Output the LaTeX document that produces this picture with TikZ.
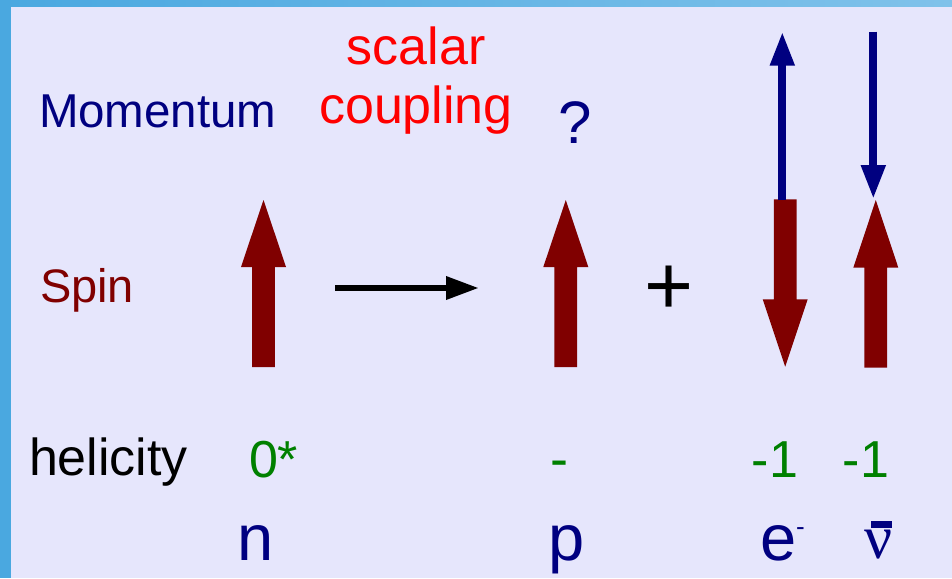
\documentclass[tikz,border=0pt]{standalone}
\usepackage{fontspec}
\setmainfont{Liberation Sans}
\newfontfamily\serifnu{Liberation Serif}
\usetikzlibrary{arrows.meta}
\definecolor{bgcol}{RGB}{230,230,252}
\definecolor{bordL}{RGB}{74,168,224}
\definecolor{bordR}{RGB}{128,194,234}
\definecolor{navyc}{RGB}{0,0,128}
\definecolor{darkred}{RGB}{128,0,0}
\definecolor{greenc}{RGB}{0,128,0}
\definecolor{redc}{RGB}{255,0,0}
\newcommand\spinupshape[4]{% center x, tip y, head base y, bottom y
  \fill[darkred] (#1,#2) -- (#1+22.5,#3) -- (#1+11.4,#3) -- (#1+11.4,#4) -- (#1-11.4,#4) -- (#1-11.4,#3) -- (#1-22.5,#3) -- cycle;}
\newcommand\spindownshape[4]{% center x, top y, head base y, tip y
  \fill[darkred] (#1-11.4,#2) -- (#1+11.4,#2) -- (#1+11.4,#3) -- (#1+22.5,#3) -- (#1,#4) -- (#1-22.5,#3) -- (#1-11.4,#3) -- cycle;}
\begin{document}
\begin{tikzpicture}[x=1pt,y=-1pt,
  txt/.style={inner sep=0pt, outer sep=0pt},
  lab/.style={txt, anchor=base west},
  momarrow/.style={navyc, line width=7.7pt, -{Triangle[length=34pt,width=23pt]}},
  reacarrow/.style={black, line width=6.5pt, -{Triangle[length=33pt,width=22pt]}}]
\useasboundingbox (0,0) rectangle (952,578);
\fill[bgcol] (0,0) rectangle (952,578);
\shade[left color=bordL, right color=bordR] (0,0) rectangle (952,7);
\fill[bordL] (0,0) rectangle (11,578);

% row labels
\node[lab, font=\fontsize{47.5}{47.5}\selectfont, text=navyc] (mom) at (39,127) {Momentum};
\node[lab, font=\fontsize{47}{47}\selectfont, text=darkred] (spin) at (40,302) {Spin};
\node[lab, font=\fontsize{52}{52}\selectfont, text=black] (hel) at (29,475) {helicity};

% scalar coupling
\node[txt, anchor=base, font=\fontsize{52}{52}\selectfont, text=redc] (sc1) at (416,64) {scalar};
\node[txt, anchor=base, font=\fontsize{52}{52}\selectfont, text=redc] (sc2) at (416,123) {coupling};

% question mark
\node[txt, anchor=base, font=\fontsize{60}{60}\selectfont, text=navyc] (q) at (575.5,143) {?};

% spin arrows
\spinupshape{263.5}{200}{267}{367}
\spinupshape{565.8}{200}{267}{367}
\spindownshape{785.2}{199.3}{299.3}{366.7}
\spinupshape{875.8}{200}{267.7}{367.7}

% momentum arrows
\coordinate (em0) at (782.3,200);
\coordinate (em1) at (782.3,31.7);
\coordinate (nm0) at (873.3,31.7);
\coordinate (nm1) at (873.3,199);
\draw[momarrow] (em0) -- (em1);
\draw[momarrow] (nm0) -- (nm1);

% reaction arrow
\coordinate (ra) at (335,288);
\coordinate (rb) at (479,288);
\draw[reacarrow] (ra) -- (rb);

% plus
\node[txt, anchor=base, font=\fontsize{84}{84}\selectfont, text=black] (plus) at (668.7,314) {+};

% helicity values
\node[lab, font=\fontsize{52}{52}\selectfont, text=greenc] (h0) at (249,477) {0*};
\node[txt, anchor=base, font=\fontsize{54}{54}\selectfont, text=greenc] (hp) at (559.5,477) {-};
\node[txt, anchor=base, font=\fontsize{52}{52}\selectfont, text=greenc] (he) at (775,477) {-1};
\node[txt, anchor=base, font=\fontsize{52}{52}\selectfont, text=greenc] (hn) at (866,477) {-1};

% particle names
\node[txt, anchor=base, font=\fontsize{65}{65}\selectfont, text=navyc] (n) at (256,560) {n};
\node[txt, anchor=base, font=\fontsize{65}{65}\selectfont, text=navyc] (p) at (567,560) {p};
\node[lab, font=\fontsize{65}{65}\selectfont, text=navyc] (e) at (760,560) {e\raisebox{25pt}{\fontsize{26}{26}\selectfont -}};
\node[lab, font=\fontsize{62}{62}\selectfont\serifnu, text=navyc] (nu) at (864,558) {\rlap{\hspace{7pt}\raisebox{30pt}{\rule{21pt}{7pt}}}ν};
\end{tikzpicture}
\end{document}
